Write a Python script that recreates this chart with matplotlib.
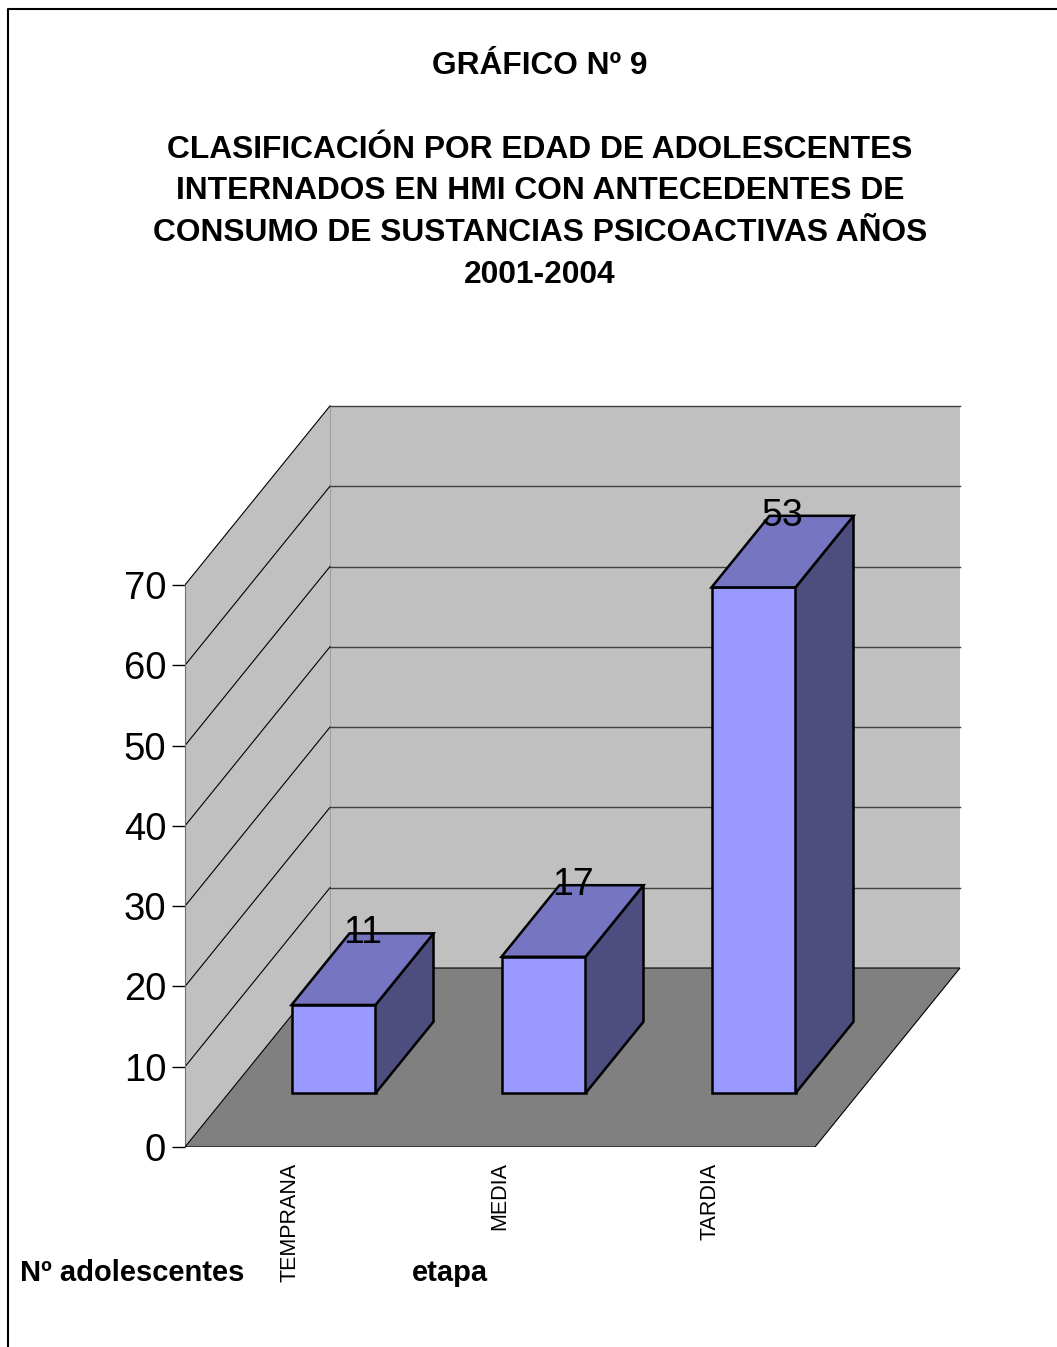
import matplotlib.pyplot as plt
from matplotlib.patches import Polygon
from matplotlib.lines import Line2D

plt.rcParams['font.family'] = ['Liberation Sans', 'DejaVu Sans']

# data
categorias = ['TEMPRANA', 'MEDIA', 'TARDIA']
alturas = [11, 17, 63]          # altura dibujada de las barras
etiquetas = ['11', '17', '53']  # rotulos tal como aparecen
yticks = [0, 10, 20, 30, 40, 50, 60, 70]
titulo_sup = 'GRÁFICO Nº 9'
titulo = ['CLASIFICACIÓN POR EDAD DE ADOLESCENTES',
          'INTERNADOS EN HMI CON ANTECEDENTES DE',
          'CONSUMO DE SUSTANCIAS PSICOACTIVAS AÑOS',
          '2001-2004']

W, H = 1057, 1347
fig = plt.figure(figsize=(W / 100, H / 100), dpi=100)

# axes: x in category units (210 px each), y in value units (8.03 px each)
px_x, px_y = 210, 8.03
ax = fig.add_axes([185 / W, 200 / H, 4 * px_x / W, 100 * px_y / H])
ax.set_xlim(-0.5, 3.5)
ax.set_ylim(0, 100)
ax.patch.set_visible(False)

# depth shift for the pseudo-3d look
DX = 145 / px_x
DV = 179 / px_y
z0, z1 = 0.3, 0.7   # bar depth
hw = 0.2            # half bar width
vmax = 70


def P(x, v, z):
    return (x + z * DX, v + z * DV)


wall = '#C0C0C0'
# left wall
ax.add_patch(Polygon([P(-0.5, 0, 0), P(-0.5, vmax, 0), P(-0.5, vmax, 1), P(-0.5, 0, 1)],
                     closed=True, fc=wall, ec='none', zorder=1))
# back wall
ax.add_patch(Polygon([P(-0.5, 0, 1), P(2.5, 0, 1), P(2.5, vmax, 1), P(-0.5, vmax, 1)],
                     closed=True, fc=wall, ec='none', zorder=1))
ax.add_line(Line2D(*zip(P(-0.5, 0, 1), P(-0.5, vmax, 1)), color='#A0A0A0', lw=0.8, zorder=2))

for v in yticks[1:]:
    ax.add_line(Line2D(*zip(P(-0.5, v, 0), P(-0.5, v, 1)), color='black', lw=0.8, zorder=2))
    ax.add_line(Line2D(*zip(P(-0.5, v, 1), P(2.5, v, 1)), color='#404040', lw=1.0, zorder=2))

# floor
ax.add_patch(Polygon([P(-0.5, 0, 0), P(2.5, 0, 0), P(2.5, 0, 1), P(-0.5, 0, 1)],
                     closed=True, fc='#808080', ec='black', lw=0.8, zorder=3))

# bars
for i, (h, lab) in enumerate(zip(alturas, etiquetas)):
    l, r = i - hw, i + hw
    front = [P(l, 0, z0), P(r, 0, z0), P(r, h, z0), P(l, h, z0)]
    side = [P(r, 0, z0), P(r, 0, z1), P(r, h, z1), P(r, h, z0)]
    top = [P(l, h, z0), P(r, h, z0), P(r, h, z1), P(l, h, z1)]
    ax.add_patch(Polygon(front, closed=True, fc='#9999FF', ec='black', lw=1.8, zorder=4))
    ax.add_patch(Polygon(side, closed=True, fc='#4D4D80', ec='black', lw=1.8, zorder=4))
    ax.add_patch(Polygon(top, closed=True, fc='#7575C2', ec='black', lw=1.8, zorder=4))
    tx, ty = P(i, h, z1)
    ax.text(i + (z0 + z1) / 2 * DX, ty, lab, ha='center', va='center',
            fontsize=27, color='black', zorder=5)

# axis
for s in ['top', 'right', 'bottom']:
    ax.spines[s].set_visible(False)
ax.spines['left'].set_bounds(0, vmax)
ax.spines['left'].set_color('#707070')
ax.spines['left'].set_linewidth(0.8)
ax.set_yticks(yticks)
ax.tick_params(axis='y', length=9.5, width=1, color='black', labelsize=27.5, pad=4)
ax.set_xticks(range(len(categorias)))
ax.set_xticklabels(categorias, rotation=90, fontsize=15.5)
ax.tick_params(axis='x', length=0, pad=11)

# titles
fig.text(540 / W, 1 - 66 / H, titulo_sup, ha='center', va='center',
         fontsize=22.8, fontweight='bold')
for k, linea in enumerate(titulo):
    fig.text(540 / W, 1 - (149.5 + 41.7 * k) / H, linea, ha='center', va='center',
             fontsize=22.9, fontweight='bold')

fig.text(20 / W, 1 - 1281 / H, 'Nº adolescentes', ha='left', va='baseline',
         fontsize=21, fontweight='bold')
fig.text(412 / W, 1 - 1281 / H, 'etapa', ha='left', va='baseline',
         fontsize=21, fontweight='bold')

# border
fig.add_artist(Line2D([8 / W, 8 / W, 1.0], [0.0, 1 - 9 / H, 1 - 9 / H],
                      transform=fig.transFigure, color='black', lw=1.5))

fig.savefig('out.png', dpi=100)
